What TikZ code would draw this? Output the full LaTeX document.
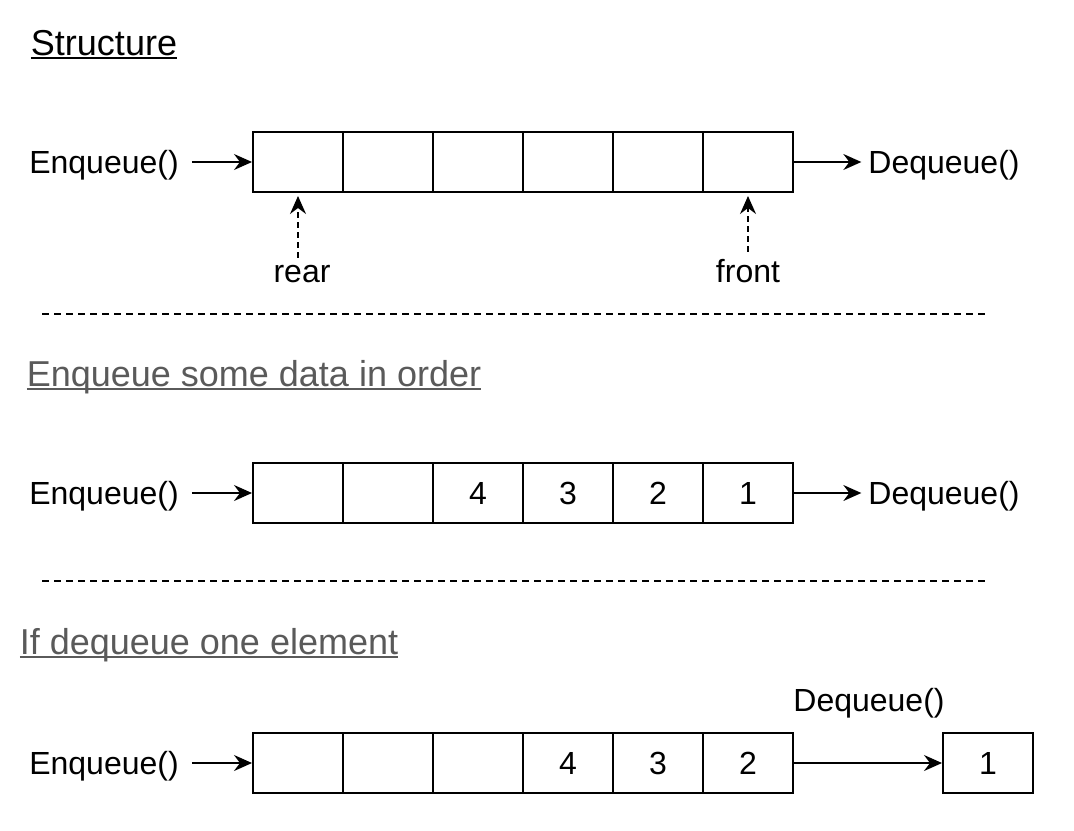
\documentclass[tikz,border=0pt]{standalone}
\usepackage{fontspec}
\setmainfont{Liberation Sans}
\usepackage{xcolor}
\usepackage{tikz}
\usetikzlibrary{positioning,arrows.meta}

\definecolor{titlegray}{HTML}{5A5A5A}
\newlength{\ulwd}
\newcommand{\uline}[1]{\settowidth{\ulwd}{#1}#1\hspace{-\ulwd}\rule[-2pt]{\ulwd}{1pt}}
\tikzset{
  cell/.style={draw, line width=1pt, minimum width=45pt, minimum height=30pt,
    inner sep=0pt, font=\fontsize{16pt}{19pt}\selectfont},
  txt/.style={font=\fontsize{16pt}{19pt}\selectfont, anchor=base},
  heading/.style={font=\fontsize{18pt}{22pt}\selectfont, anchor=base},
  flow/.style={-{Stealth[length=9pt,width=8pt,inset=3pt]}, line width=0.75pt},
  pointer/.style={flow, dashed, dash pattern=on 3pt off 2pt},
  sep/.style={line width=0.75pt, dash pattern=on 3.5pt off 2.5pt}
}

\begin{document}
\begin{tikzpicture}[x=0.5pt,y=-0.5pt]
\useasboundingbox (0,0) rectangle (1074,830);

% Structure
\node[heading] (title1) at (104,55) {\uline{Structure}};
\foreach \i in {0,...,5}
  \node[cell] (q1c\i) at (298+90*\i,162) {};
\node[txt] (enq1) at (104,173) {Enqueue()};
\node[txt] (deq1) at (944,173) {Dequeue()};
\draw[flow, shorten <=3pt] (enq1.east |- q1c0.west) -- (q1c0.west);
\draw[flow] (q1c5.east) -- (deq1.west |- q1c5.east);
\node[txt] (rear) at (302,282) {rear};
\node[txt] (front) at (748,282) {front};
\draw[pointer, shorten >=1.5pt] (rear.north -| q1c0.south) -- (q1c0.south);
\draw[pointer, shorten >=1.5pt] (front.north -| q1c5.south) -- (q1c5.south);

% separator
\coordinate (s1l) at (42,314);
\coordinate (s1r) at (985,314);
\draw[sep] (s1l) -- (s1r);

% Enqueue some data
\node[heading, text=titlegray] (title2) at (254,386) {\uline{Enqueue some data in order}};
\foreach \i/\v in {0/,1/,2/4,3/3,4/2,5/1}
  \node[cell] (q2c\i) at (298+90*\i,493) {\v};
\node[txt] (enq2) at (104,504) {Enqueue()};
\node[txt] (deq2) at (944,504) {Dequeue()};
\draw[flow, shorten <=3pt] (enq2.east |- q2c0.west) -- (q2c0.west);
\draw[flow] (q2c5.east) -- (deq2.west |- q2c5.east);

% separator
\coordinate (s2l) at (42,581);
\coordinate (s2r) at (985,581);
\draw[sep] (s2l) -- (s2r);

% If dequeue
\node[heading, text=titlegray] (title3) at (209,654) {\uline{If dequeue one element}};
\foreach \i/\v in {0/,1/,2/,3/4,4/3,5/2}
  \node[cell] (q3c\i) at (298+90*\i,763) {\v};
\node[cell] (out) at (988,763) {1};
\node[txt] (enq3) at (104,774) {Enqueue()};
\node[txt] (deq3) at (869,711) {Dequeue()};
\draw[flow, shorten <=3pt] (enq3.east |- q3c0.west) -- (q3c0.west);
\draw[flow] (q3c5.east) -- (out.west);
\end{tikzpicture}
\end{document}
